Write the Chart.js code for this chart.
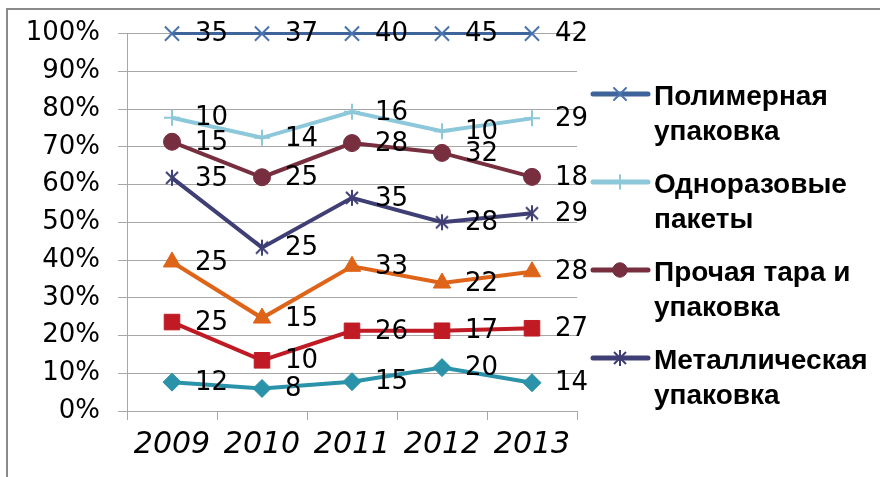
<!DOCTYPE html>
<html>
<head>
<meta charset="utf-8">
<script src="https://cdn.jsdelivr.net/npm/chart.js@4/dist/chart.umd.min.js"></script>
<style>
  html, body { margin: 0; padding: 0; background: #fff; }
  #wrap { position: relative; width: 880px; height: 477px; }
</style>
</head>
<body>
<div id="wrap"><canvas id="chart" width="880" height="477"></canvas></div>
<script>
const years = ["2009", "2010", "2011", "2012", "2013"];

// raw volumes per group, listed from the bottom of the stack up
const series7 = [12, 8, 15, 20, 14];
const series6 = [25, 10, 26, 17, 27];
const series5 = [25, 15, 33, 22, 28];
const metal = [35, 25, 35, 28, 29];
const otherPack = [15, 25, 28, 32, 18];
const bags = [10, 14, 16, 10, 29];
const polymer = [35, 37, 40, 45, 42];

const names = [
  "Ряд 7",
  "Ряд 6",
  "Ряд 5",
  "Металлическая\nупаковка",
  "Прочая тара и\nупаковка",
  "Одноразовые\nпакеты",
  "Полимерная\nупаковка",
];
const stack = [series7, series6, series5, metal, otherPack, bags, polymer];

function starMarker(color, r, lw) {
  const c = document.createElement("canvas");
  const s = Math.ceil(r * 2 + lw * 2);
  c.width = c.height = s;
  const g = c.getContext("2d");
  const m = s / 2;
  const d = r * 0.75;
  g.strokeStyle = color;
  g.lineWidth = lw;
  g.beginPath();
  g.moveTo(m - d, m - d); g.lineTo(m + d, m + d);
  g.moveTo(m + d, m - d); g.lineTo(m - d, m + d);
  g.moveTo(m, m - r); g.lineTo(m, m + r);
  g.stroke();
  return c;
}

const looks = [
  { color: "#2A93AA", style: "rectRot", radius: 9, width: 4 },
  { color: "#C01A24", style: "rect", radius: 11, width: 4 },
  { color: "#DD6418", style: "triangle", radius: 10, width: 4 },
  { color: "#3F3F75", style: starMarker("#3F3F75", 8, 2), radius: 8, width: 4 },
  { color: "#772F3F", style: "circle", radius: 8.5, width: 4 },
  { color: "#8CC8DA", style: "cross", radius: 8, width: 4, markBorder: 2 },
  { color: "#3E6499", style: "crossRot", radius: 10, width: 3, markBorder: 2, mark: "#4A74AE" },
];

// running share of each year's total -> 100% stacked positions
function cumulativeShares(groups) {
  const totals = years.map((_, i) => groups.reduce((s, v) => s + v[i], 0));
  const run = years.map(() => 0);
  return groups.map(vals => vals.map((v, i) => {
    run[i] += v;
    return run[i] / totals[i];
  }));
}

const shares = cumulativeShares(stack);

const datasets = stack.map((vals, k) => {
  const lk = looks[k];
  return {
    label: names[k],
    raw: vals,
    data: shares[k],
    borderColor: lk.color,
    borderWidth: lk.width,
    pointStyle: lk.style,
    pointRadius: lk.radius,
    pointHoverRadius: lk.radius,
    pointBackgroundColor: lk.mark || lk.color,
    pointBorderColor: lk.mark || lk.color,
    pointBorderWidth: lk.markBorder || 1,
    tension: 0,
    clip: false,
  };
});

const frame = {
  id: "frame",
  beforeDraw(chart) {
    const ctx = chart.ctx;
    ctx.save();
    ctx.fillStyle = "#fff";
    ctx.fillRect(0, 0, chart.width, chart.height);
    ctx.strokeStyle = "#8a8a8a";
    ctx.lineWidth = 2;
    ctx.beginPath();
    ctx.moveTo(7, chart.height);
    ctx.lineTo(7, 9);
    ctx.lineTo(chart.width, 9);
    ctx.stroke();
    ctx.restore();
  },
};

const valueLabels = {
  id: "valueLabels",
  afterDatasetsDraw(chart) {
    const ctx = chart.ctx;
    ctx.save();
    ctx.font = '26px "DejaVu Sans"';
    ctx.fillStyle = "#000";
    ctx.textBaseline = "middle";
    chart.data.datasets.forEach((ds, di) => {
      chart.getDatasetMeta(di).data.forEach((pt, i) => {
        ctx.fillText(String(ds.raw[i]), pt.x + 23, pt.y + 1);
      });
    });
    ctx.restore();
  },
};

// legend on the right, top of the stack first, clipped to its box
const sideLegend = {
  id: "sideLegend",
  afterDraw(chart) {
    const ctx = chart.ctx;
    ctx.save();
    ctx.beginPath();
    ctx.rect(585, 60, 295, 360);
    ctx.clip();
    const list = chart.data.datasets.slice().reverse();
    list.forEach((ds, k) => {
      const base = 105 + k * 88;
      const y = base - 11;
      ctx.strokeStyle = ds.borderColor;
      ctx.lineWidth = 5;
      ctx.lineCap = "round";
      ctx.beginPath();
      ctx.moveTo(593, y);
      ctx.lineTo(648, y);
      ctx.stroke();
      ctx.fillStyle = ds.pointBackgroundColor;
      ctx.strokeStyle = ds.pointBorderColor;
      ctx.lineWidth = ds.pointBorderWidth;
      Chart.helpers.drawPoint(ctx, {
        pointStyle: ds.pointStyle,
        radius: ds.pointRadius * 0.85,
        rotation: 0,
        borderWidth: ds.pointBorderWidth,
      }, 620, y);
      ctx.fillStyle = "#000";
      ctx.font = 'bold 28px "Liberation Sans"';
      ctx.textBaseline = "alphabetic";
      ds.label.split("\n").forEach((line, j) => ctx.fillText(line, 654, base + j * 35));
    });
    ctx.restore();
  },
};

Chart.defaults.font.family = '"DejaVu Sans"';
Chart.defaults.color = "#000";

new Chart(document.getElementById("chart").getContext("2d"), {
  type: "line",
  data: { labels: years, datasets },
  options: {
    responsive: false,
    animation: false,
    layout: { padding: { left: 0, right: 303, top: 33, bottom: 0 } },
    plugins: { legend: { display: false }, tooltip: { enabled: false } },
    scales: {
      x: {
        offset: true,
        grid: { offset: true, drawOnChartArea: false, color: "#A6A6A6", tickLength: 9 },
        border: { color: "#A6A6A6" },
        ticks: { font: { size: 30, style: "italic" }, padding: 7, maxRotation: 0 },
        afterFit: s => { s.height = 66; },
      },
      y: {
        min: 0,
        max: 1,
        grid: { color: "#A6A6A6", tickLength: 9 },
        border: { color: "#A6A6A6" },
        ticks: {
          stepSize: 0.1,
          font: { size: 26 },
          padding: 18,
          callback: v => Math.round(v * 100) + "%",
        },
        afterFit: s => { s.width = 127; },
      },
    },
  },
  plugins: [frame, valueLabels, sideLegend],
});
</script>
</body>
</html>
